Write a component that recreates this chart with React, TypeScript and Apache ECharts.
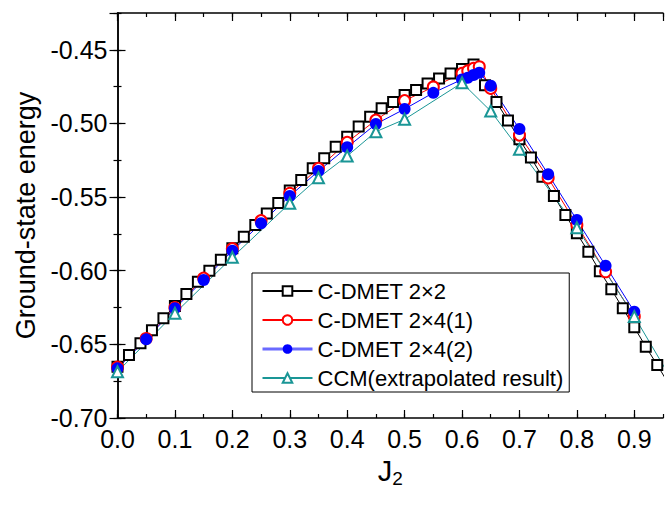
import React, { useEffect, useRef } from "react";
import * as echarts from "echarts";

const seriesNames = ["C-DMET 2×2", "C-DMET 2×4(1)", "C-DMET 2×4(2)", "CCM(extrapolated result)"];

const x2x2 = [0.0, 0.02, 0.04, 0.06, 0.08, 0.1, 0.12, 0.14, 0.16, 0.18, 0.2, 0.22, 0.24, 0.26, 0.28, 0.3, 0.32, 0.34, 0.36, 0.38, 0.4, 0.42, 0.44, 0.46, 0.48, 0.5, 0.52, 0.54, 0.56, 0.58, 0.6, 0.62, 0.64, 0.66, 0.68, 0.7, 0.72, 0.74, 0.76, 0.78, 0.8, 0.82, 0.84, 0.86, 0.88, 0.9, 0.92, 0.94, 0.96];
const e2x2 = [-0.6652, -0.6572, -0.6493, -0.6405, -0.6323, -0.624, -0.6158, -0.6075, -0.6, -0.5925, -0.5848, -0.577, -0.569, -0.5612, -0.554, -0.5455, -0.5384, -0.5305, -0.5237, -0.5158, -0.509, -0.502, -0.4955, -0.4897, -0.4855, -0.4807, -0.4773, -0.4728, -0.4694, -0.466, -0.463, -0.46, -0.474, -0.4855, -0.498, -0.5108, -0.5232, -0.5362, -0.5492, -0.5622, -0.5746, -0.5871, -0.6004, -0.6126, -0.6255, -0.6384, -0.6516, -0.664, -0.677];

const x2x4 = [0.0, 0.05, 0.1, 0.15, 0.2, 0.25, 0.3, 0.35, 0.4, 0.45, 0.5, 0.55, 0.6, 0.61, 0.62, 0.63, 0.65, 0.7, 0.75, 0.8, 0.85, 0.9];
const e2x4a = [-0.6655, -0.646, -0.625, -0.605, -0.585, -0.566, -0.5474, -0.5305, -0.5128, -0.4977, -0.4845, -0.4752, -0.466, -0.4643, -0.4626, -0.4615, -0.4762, -0.5079, -0.537, -0.569, -0.6007, -0.631];
const e2x4b = [-0.6663, -0.6466, -0.6255, -0.6063, -0.5864, -0.5678, -0.5493, -0.5323, -0.5162, -0.5004, -0.4902, -0.4792, -0.4701, -0.469, -0.4671, -0.4656, -0.4744, -0.5038, -0.5345, -0.5656, -0.5966, -0.6278];

const xCcm = [0.0, 0.1, 0.2, 0.3, 0.35, 0.4, 0.45, 0.5, 0.6, 0.65, 0.7, 0.8, 0.9, 1.0];
const eCcm = [-0.6686, -0.6289, -0.5909, -0.5542, -0.5369, -0.5221, -0.5056, -0.4972, -0.4724, -0.4916, -0.5176, -0.5708, -0.631, -0.697];

const FONT = "Liberation Sans, Arial, sans-serif";
const pairs = (xs: number[], ys: number[]) => xs.map((x, i) => [x, ys[i]]);

export default function App() {
  const ref = useRef<HTMLDivElement>(null);
  useEffect(() => {
    const chart = echarts.init(ref.current!, null, { renderer: "svg" });
    const frame = { show: true, lineStyle: { color: "#000", width: 1.5 } };
    const noLine = { show: false };
    const tick = (len: number) => ({ show: true, inside: true, length: len, lineStyle: { color: "#000", width: 1.2 } });
    const xCommon = { type: "value", min: 0, max: 0.95, splitLine: { show: false } };
    const yCommon = { type: "value", min: -0.7, max: -0.425, splitLine: { show: false } };
    chart.setOption({
      animation: false,
      backgroundColor: "#fff",
      grid: { left: 117.5, right: 8, top: 13, bottom: 87 },
      xAxis: [
        {
          ...xCommon, position: "bottom", interval: 0.1, axisLine: frame, axisTick: tick(8),
          axisLabel: { show: true, showMaxLabel: false, fontSize: 25, color: "#000", fontFamily: FONT, margin: 8, formatter: (v: number) => v.toFixed(1) },
          name: "{a|J}{b|2}", nameLocation: "middle", nameGap: 36,
          nameTextStyle: { rich: { a: { fontSize: 29, fontFamily: FONT, color: "#000" }, b: { fontSize: 19, fontFamily: FONT, color: "#000", verticalAlign: "bottom", padding: [15, 0, 0, 0] } } },
        },
        { ...xCommon, position: "bottom", interval: 0.05, axisLine: noLine, axisTick: tick(4), axisLabel: { show: false } },
        { ...xCommon, position: "top", interval: 0.1, axisLine: frame, axisTick: tick(8), axisLabel: { show: false } },
        { ...xCommon, position: "top", interval: 0.05, axisLine: noLine, axisTick: tick(4), axisLabel: { show: false } },
      ],
      yAxis: [
        {
          ...yCommon, position: "left", interval: 0.05, axisLine: frame, axisTick: tick(8),
          axisLabel: { show: true, showMaxLabel: false, fontSize: 25, color: "#000", fontFamily: FONT, margin: 10, formatter: (v: number) => v.toFixed(2) },
          name: "Ground-state energy", nameLocation: "middle", nameGap: 74,
          nameTextStyle: { fontSize: 27, fontFamily: FONT, color: "#000" },
        },
        { ...yCommon, position: "left", interval: 0.025, axisLine: noLine, axisTick: tick(4), axisLabel: { show: false } },
        { ...yCommon, position: "right", interval: 0.05, axisLine: frame, axisTick: tick(8), axisLabel: { show: false } },
        { ...yCommon, position: "right", interval: 0.025, axisLine: noLine, axisTick: tick(4), axisLabel: { show: false } },
      ],
      legend: {
        orient: "vertical",
        left: 252,
        top: 273,
        padding: [7, 6, 3, 9],
        borderColor: "#000",
        borderWidth: 1,
        backgroundColor: "#fff",
        itemWidth: 50,
        itemHeight: 12,
        itemGap: 7,
        textStyle: { fontSize: 22, fontFamily: FONT, color: "#000", lineHeight: 21 },
        data: [
          { name: seriesNames[0] },
          { name: seriesNames[1] },
          { name: seriesNames[2], lineStyle: { color: "#6a6aff", width: 3 } },
          { name: seriesNames[3] },
        ],
      },
      series: [
        {
          name: seriesNames[0], type: "line", data: pairs(x2x2, e2x2), clip: true,
          symbol: "emptyRect", symbolSize: 10, showAllSymbol: true,
          lineStyle: { color: "#000", width: 1 }, itemStyle: { color: "#000", borderWidth: 1.1 },
        },
        {
          name: seriesNames[1], type: "line", data: pairs(x2x4, e2x4a), clip: true,
          symbol: "emptyCircle", symbolSize: 11, showAllSymbol: true,
          lineStyle: { color: "#ff0000", width: 1 }, itemStyle: { color: "#ff0000", borderWidth: 1.1 },
        },
        {
          name: seriesNames[2], type: "line", data: pairs(x2x4, e2x4b), clip: true,
          symbol: "circle", symbolSize: 12, showAllSymbol: true,
          lineStyle: { color: "#0000ff", width: 1 }, itemStyle: { color: "#0000ff" },
        },
        {
          name: seriesNames[3], type: "line", data: pairs(xCcm, eCcm), clip: true,
          symbol: "emptyTriangle", symbolSize: 11, showAllSymbol: true,
          lineStyle: { color: "#1a9696", width: 1 }, itemStyle: { color: "#1a9696", borderWidth: 1.1 },
        },
      ],
    });
    return () => chart.dispose();
  }, []);
  return <div ref={ref} style={{ position: "fixed", left: 0, top: 0, width: 671, height: 505 }} />;
}
